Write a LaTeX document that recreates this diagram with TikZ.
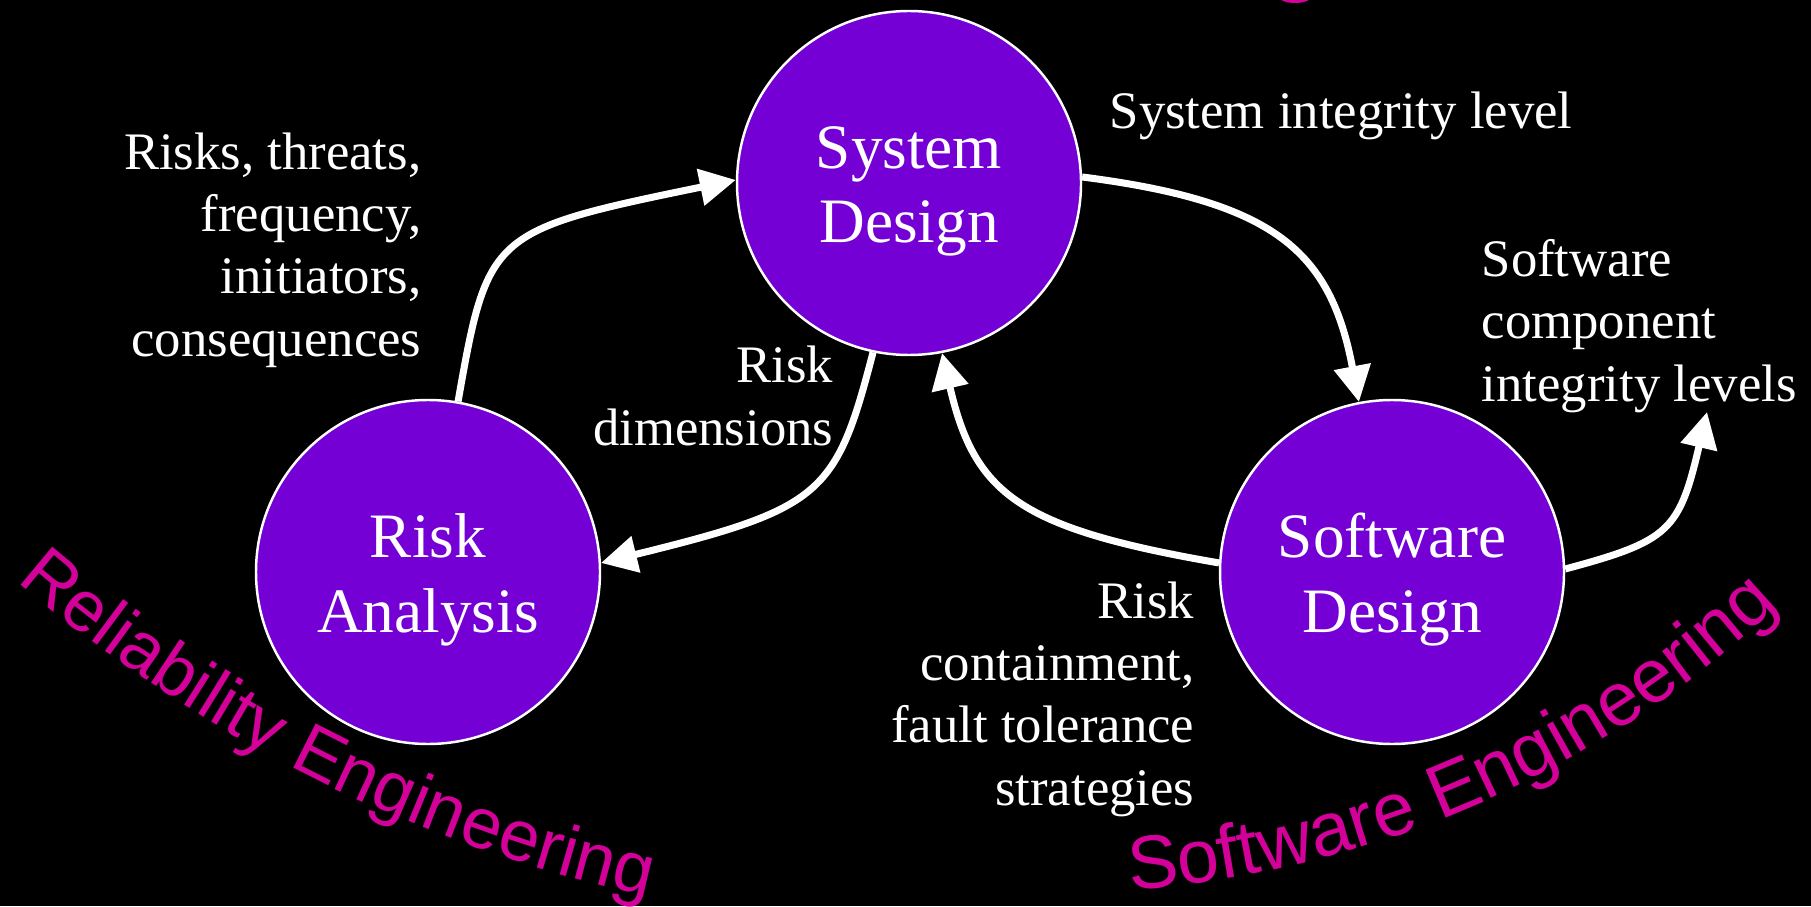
\documentclass[tikz,border=0pt]{standalone}
\usepackage{fontspec}
\setmainfont{Liberation Serif}
\newfontfamily\bandfont{Liberation Sans}
\usetikzlibrary{arrows.meta, decorations.text}
\definecolor{stagepurple}{RGB}{116, 0, 214}
\definecolor{bandmagenta}{RGB}{212, 0, 154}

\begin{document}
\begin{tikzpicture}[
        stage/.style={circle, draw=white, line width=0.7pt, fill=stagepurple, minimum size=3.44cm, inner sep=0pt, align=center, text=white, text height=1.4cm, text depth=0.2cm, font=\fontsize{18}{21.3}\selectfont},
        note/.style={text=white, inner sep=0pt, font=\fontsize{15}{17.7}\selectfont},
        flow/.style={-{Triangle[length=0.36cm, width=0.36cm]}, white, line width=2pt},
        band/.style 2 args={decorate, decoration={text along path, text color=bandmagenta, text align=left, text={|\bandfont\fontsize{#1}{24}\selectfont|#2}}}
    ]
        % Background
        \fill[black] (0,0) rectangle (18.11,9.06);
        \useasboundingbox (0,0) rectangle (18.11,9.06);

        % Stages
        \node[stage] (sysd) at (9.09, 7.23) {System\\Design};
        \node[stage] (risk) at (4.28, 3.34) {Risk\\Analysis};
        \node[stage] (soft) at (13.92, 3.34) {Software\\Design};
        \coordinate (swout) at (17.07, 4.94);

        % Flows
        \draw[flow] (risk.80) .. controls +(80:1.71) and +(191.6:2.51) .. (sysd.179);
        \draw[flow] (sysd.258) .. controls +(255.5:1.47) and +(13.8:2.28) .. (risk.3);
        \draw[flow] (sysd.2) .. controls +(-7.3:1.95) and +(100.7:1.53) .. (soft.101);
        \draw[flow] (soft.177) .. controls +(170.2:2.03) and +(283:1.45) .. (sysd.281);
        \draw[flow] (soft.1) .. controls +(15:1.08) and +(256.9:1.22) .. (swout);

        % Flow labels (base = last line)
        \node[note, align=right, anchor=base east] (threats) at (4.22, 5.50) {Risks, threats,\\frequency,\\initiators,\\consequences};
        \node[note, anchor=base west] (sil) at (11.09, 7.77) {System integrity level};
        \node[note, align=left, anchor=base west] (cil) at (14.81, 5.05) {Software\\component\\integrity levels};
        \node[note, align=right, anchor=base east] (dims) at (8.34, 4.61) {Risk\\dimensions};
        \node[note, align=right, anchor=base east] (contain) at (11.95, 1.01) {Risk\\containment,\\fault tolerance\\strategies};

        % Engineering fields
        \path[band={20.5}{Reliability Engineering}] (0.17, 3.25) arc[start angle=229.3, end angle=262, radius=14.48];
        \path[band={21.5}{Software Engineering}] (11.30, 0.16) arc[start angle=274.1, end angle=322, radius=10.58];
        \fill[bandmagenta] (12.95, 9.09) ellipse [x radius=0.16, y radius=0.06];
    \end{tikzpicture}
\end{document}
